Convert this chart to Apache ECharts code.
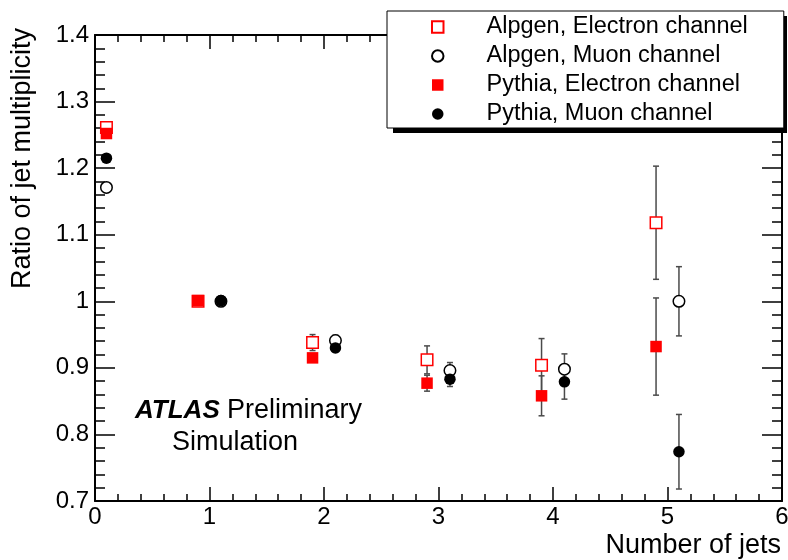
<!DOCTYPE html>
<html>
<head>
<meta charset="utf-8">
<script src="https://cdn.jsdelivr.net/npm/echarts@6/dist/echarts.min.js"></script>
<style>
  html, body { margin: 0; padding: 0; background: #fff; }
  #chart { width: 788px; height: 560px; }
</style>
</head>
<body>
<div id="chart"></div>
<script>
// x positions (jets are shifted a little so the channels don't overlap)
const jetsElectron = [0.1, 0.9, 1.9, 2.9, 3.9, 4.9];
const jetsMuon = [0.1, 1.1, 2.1, 3.1, 4.1, 5.1];

const alpgenElectron = [1.261, 1.0, 0.938, 0.912, 0.904, 1.118];
const alpgenElectronErr = [0.005, 0.005, 0.012, 0.021, 0.040, 0.085];
const alpgenMuon = [1.171, 1.0, 0.941, 0.896, 0.898, 1.0];
const alpgenMuonErr = [0.004, 0.004, 0.008, 0.012, 0.023, 0.052];
const pythiaElectron = [1.252, 1.001, 0.915, 0.877, 0.858, 0.932];
const pythiaElectronErr = [0.004, 0.006, 0.006, 0.012, 0.030, 0.073];
const pythiaMuon = [1.215, 1.001, 0.930, 0.883, 0.879, 0.774];
const pythiaMuonErr = [0.004, 0.004, 0.006, 0.011, 0.026, 0.056];

const seriesNames = ['Alpgen, Electron channel', 'Alpgen, Muon channel', 'Pythia, Electron channel', 'Pythia, Muon channel'];
const xTickLabels = ['0', '1', '2', '3', '4', '5', '6'];
const yTickLabels = ['0.7', '0.8', '0.9', '1', '1.1', '1.2', '1.3', '1.4'];

const FONT = '"Liberation Sans", Arial, Helvetica, sans-serif';

const chart = echarts.init(document.getElementById('chart'), null, { renderer: 'canvas' });

function errorBars(xs, ys, errs) {
  return {
    type: 'custom',
    silent: true,
    z: 1,
    encode: { x: 0, y: [1, 2] },
    data: xs.map((x, i) => [x, ys[i] - errs[i], ys[i] + errs[i]]),
    renderItem: function (params, api) {
      const lo = api.coord([api.value(0), api.value(1)]);
      const hi = api.coord([api.value(0), api.value(2)]);
      const cap = 3;
      const st = { stroke: '#4a4a4a', lineWidth: 1.5 };
      return {
        type: 'group',
        children: [
          { type: 'line', shape: { x1: lo[0], y1: lo[1], x2: hi[0], y2: hi[1] }, style: st },
          { type: 'line', shape: { x1: lo[0] - cap, y1: lo[1], x2: lo[0] + cap, y2: lo[1] }, style: st },
          { type: 'line', shape: { x1: hi[0] - cap, y1: hi[1], x2: hi[0] + cap, y2: hi[1] }, style: st }
        ]
      };
    }
  };
}

function points(name, xs, ys, symbol, itemStyle) {
  return {
    name: name,
    type: 'scatter',
    symbol: symbol,
    symbolSize: 11.5,
    z: 3,
    silent: true,
    itemStyle: Object.assign({ opacity: 1 }, itemStyle),
    data: xs.map((x, i) => [x, ys[i]])
  };
}

const tickLine = { color: '#000', width: 1.5 };

const xBase = {
  type: 'value', min: 0, max: 6, interval: 1,
  axisLine: { onZero: false, lineStyle: { color: '#000', width: 2 } },
  axisTick: { inside: true, length: 14, lineStyle: tickLine },
  minorTick: { show: true, splitNumber: 5, length: 7, lineStyle: tickLine },
  splitLine: { show: false },
  minorSplitLine: { show: false }
};
const yBase = {
  type: 'value', min: 0.7, max: 1.4, interval: 0.1,
  axisLine: { onZero: false, lineStyle: { color: '#000', width: 2 } },
  axisTick: { inside: true, length: 20, lineStyle: tickLine },
  minorTick: { show: true, splitNumber: 5, length: 10, lineStyle: tickLine },
  splitLine: { show: false },
  minorSplitLine: { show: false }
};

const option = {
  animation: false,
  backgroundColor: '#fff',
  grid: { left: 95, right: 6, top: 35, bottom: 59, outerBoundsMode: 'none' },
  xAxis: [
    Object.assign({}, xBase, {
      position: 'bottom',
      axisLabel: {
        margin: 4, fontSize: 24, fontFamily: FONT, color: '#000',
        formatter: v => xTickLabels[Math.round(v)]
      }
    }),
    Object.assign({}, xBase, { position: 'top', axisLabel: { show: false } })
  ],
  yAxis: [
    Object.assign({}, yBase, {
      position: 'left',
      axisLabel: {
        margin: 6, fontSize: 24, fontFamily: FONT, color: '#000',
        formatter: v => yTickLabels[Math.round((v - 0.7) * 10)]
      }
    }),
    Object.assign({}, yBase, { position: 'right', axisLabel: { show: false } })
  ],
  legend: {
    orient: 'vertical',
    left: 387, top: 11,
    z: 10,
    padding: [4, 36, 2, 44],
    itemGap: 5,
    itemWidth: 11.5,
    itemHeight: 11.5,
    backgroundColor: '#fff',
    borderColor: '#000',
    borderWidth: 1,
    selectedMode: false,
    textStyle: { fontFamily: FONT, fontSize: 23.5, lineHeight: 24, color: '#000', padding: [0, 0, 0, 38] },
    data: seriesNames
  },
  graphic: [
    {
      // drop shadow of the legend box
      type: 'rect', z: 5, silent: true,
      shape: { x: 393, y: 16, width: 394, height: 117 },
      style: { fill: '#000' }
    },
    {
      type: 'text', x: 23, y: 28, rotation: Math.PI / 2,
      style: { text: 'Ratio of jet multiplicity', font: '27px ' + FONT, fill: '#000', align: 'right', verticalAlign: 'middle' }
    },
    {
      type: 'text', x: 781, y: 546,
      style: { text: 'Number of jets', font: '27px ' + FONT, fill: '#000', align: 'right', verticalAlign: 'middle' }
    },
    {
      type: 'text', x: 135, y: 411,
      style: { text: 'ATLAS', font: 'italic bold 26px ' + FONT, fill: '#000', align: 'left', verticalAlign: 'middle' }
    },
    {
      type: 'text', x: 227, y: 411,
      style: { text: 'Preliminary', font: '27px ' + FONT, fill: '#000', align: 'left', verticalAlign: 'middle' }
    },
    {
      type: 'text', x: 172, y: 443,
      style: { text: 'Simulation', font: '27px ' + FONT, fill: '#000', align: 'left', verticalAlign: 'middle' }
    }
  ],
  series: [
    errorBars(jetsElectron, alpgenElectron, alpgenElectronErr),
    errorBars(jetsMuon, alpgenMuon, alpgenMuonErr),
    errorBars(jetsElectron, pythiaElectron, pythiaElectronErr),
    errorBars(jetsMuon, pythiaMuon, pythiaMuonErr),
    points(seriesNames[0], jetsElectron, alpgenElectron, 'rect', { color: '#fff', borderColor: '#ff0000', borderWidth: 1.5 }),
    points(seriesNames[1], jetsMuon, alpgenMuon, 'circle', { color: '#fff', borderColor: '#000', borderWidth: 1.5 }),
    points(seriesNames[2], jetsElectron, pythiaElectron, 'rect', { color: '#ff0000', borderWidth: 0 }),
    points(seriesNames[3], jetsMuon, pythiaMuon, 'circle', { color: '#000', borderWidth: 0 })
  ]
};

chart.setOption(option);
</script>
</body>
</html>
